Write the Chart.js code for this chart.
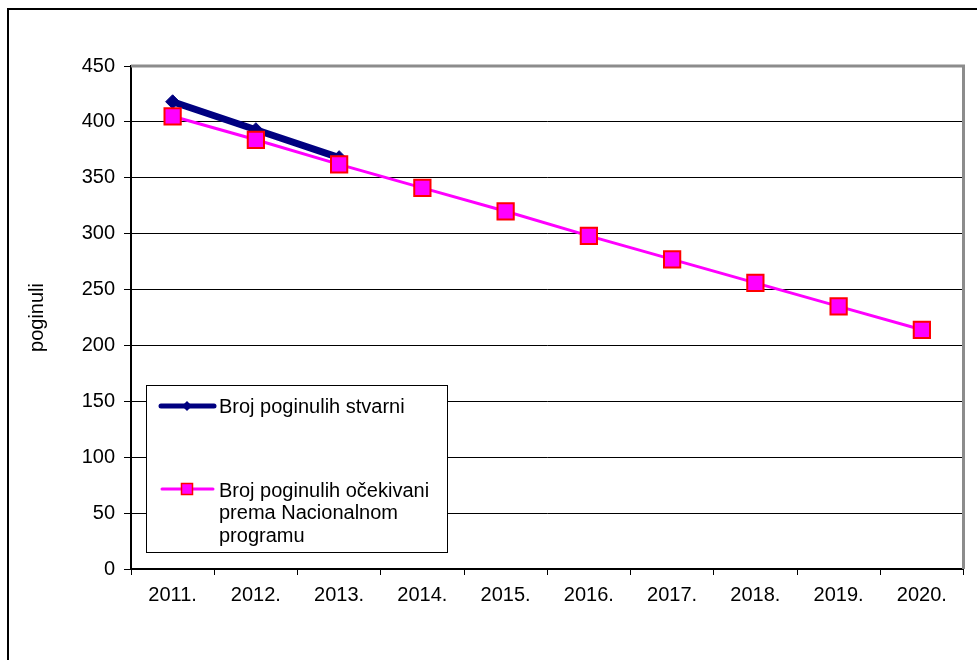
<!DOCTYPE html>
<html>
<head>
<meta charset="utf-8">
<script src="https://cdn.jsdelivr.net/npm/chart.js@4"></script>
<style>
  html, body { margin: 0; padding: 0; background: #fff; }
  #wrap { position: relative; width: 977px; height: 660px; overflow: hidden; }
  #frame { position: absolute; left: 7px; top: 8px; width: 1200px; height: 900px;
           border-left: 2px solid #000; border-top: 2px solid #000; box-sizing: border-box; pointer-events: none; }
  canvas { position: absolute; left: 0; top: 0; }
</style>
</head>
<body>
<div id="wrap">
  <canvas id="chart" width="977" height="660"></canvas>
  <div id="frame"></div>
</div>
<script>
// Broj poginulih - stvarni vs. očekivani (Nacionalni program)
const years = ["2011.", "2012.", "2013.", "2014.", "2015.", "2016.", "2017.", "2018.", "2019.", "2020."];
const actual = [418, 393, 368, null, null, null, null, null, null, null];
const expected = [405, 384, 362, 341, 320, 298, 277, 256, 235, 214];
const yTicks = [0, 50, 100, 150, 200, 250, 300, 350, 400, 450];

const labelActual = ["Broj poginulih stvarni"];
const labelExpected = ["Broj poginulih očekivani", "prema Nacionalnom", "programu"];

const FONT = "'Liberation Sans', Arial, sans-serif";
const FSIZE = 20;
const NAVY = "#000080";
const MAGENTA = "#FF00FF";
const RED = "#FF0000";

// gray plot border on top/right + legend box inside the plot
const plotDecor = {
  id: "plotDecor",
  beforeDatasetsDraw(chart) {
    const { ctx, chartArea: a } = chart;
    ctx.save();
    ctx.strokeStyle = "#8c8c8c";
    ctx.lineWidth = 3;
    ctx.beginPath();
    ctx.moveTo(a.left, a.top);
    ctx.lineTo(a.right, a.top);
    ctx.lineTo(a.right, a.bottom);
    ctx.stroke();
    ctx.restore();
  },
  afterDraw(chart) {
    const { ctx } = chart;
    const bx = 146, by = 385, bw = 301, bh = 167;
    ctx.save();
    ctx.fillStyle = "#fff";
    ctx.fillRect(bx, by, bw, bh);
    ctx.strokeStyle = "#000";
    ctx.lineWidth = 1;
    ctx.strokeRect(bx + 0.5, by + 0.5, bw, bh);

    // entry 1
    let y = 406;
    ctx.strokeStyle = NAVY;
    ctx.lineWidth = 5;
    ctx.lineCap = "round";
    ctx.beginPath(); ctx.moveTo(161, y); ctx.lineTo(214, y); ctx.stroke();
    ctx.fillStyle = NAVY;
    ctx.beginPath();
    ctx.moveTo(187, y - 5); ctx.lineTo(192, y); ctx.lineTo(187, y + 5); ctx.lineTo(182, y);
    ctx.closePath(); ctx.fill();

    ctx.font = FSIZE + "px " + FONT;
    ctx.fillStyle = "#000";
    ctx.textBaseline = "middle";
    labelActual.forEach((t, i) => ctx.fillText(t, 219, y + 1 + i * 22.5));

    // entry 2
    y = 489;
    ctx.strokeStyle = MAGENTA;
    ctx.lineWidth = 3;
    ctx.beginPath(); ctx.moveTo(162, y); ctx.lineTo(213, y); ctx.stroke();
    ctx.fillStyle = MAGENTA;
    ctx.fillRect(181.5, y - 5.5, 11, 11);
    ctx.strokeStyle = RED;
    ctx.lineWidth = 1.5;
    ctx.strokeRect(181.5, y - 5.5, 11, 11);
    ctx.fillStyle = "#000";
    labelExpected.forEach((t, i) => ctx.fillText(t, 219, y + 2 + i * 22.5));
    ctx.restore();
  }
};

new Chart(document.getElementById("chart"), {
  type: "line",
  data: {
    labels: years,
    datasets: [
      {
        label: labelActual.join(" "),
        data: actual,
        order: 2,
        borderColor: NAVY,
        backgroundColor: NAVY,
        borderWidth: 7,
        pointStyle: "rectRot",
        pointRadius: 7,
        pointBorderWidth: 1,
        pointBackgroundColor: NAVY,
        pointBorderColor: NAVY,
        spanGaps: false,
        tension: 0
      },
      {
        label: labelExpected.join(" "),
        data: expected,
        order: 1,
        borderColor: MAGENTA,
        backgroundColor: MAGENTA,
        borderWidth: 3,
        pointStyle: "rect",
        pointRadius: 11.5,
        pointBorderWidth: 2,
        pointBackgroundColor: MAGENTA,
        pointBorderColor: RED,
        tension: 0
      }
    ]
  },
  options: {
    responsive: false,
    animation: false,
    events: [],
    layout: { padding: { left: 7, top: 66, right: 12, bottom: 0 } },
    plugins: { legend: { display: false }, tooltip: { enabled: false } },
    scales: {
      x: {
        offset: true,
        grid: { offset: true, drawOnChartArea: false, drawTicks: true, tickLength: 6, color: "#000", lineWidth: 1 },
        border: { display: true, color: "#000", width: 2 },
        ticks: { color: "#000", font: { family: FONT, size: FSIZE }, padding: 8, maxRotation: 0, autoSkip: false },
        afterFit(scale) { scale.height = 660 - 569; }
      },
      y: {
        min: 0,
        max: 450,
        afterBuildTicks(scale) { scale.ticks = yTicks.map(v => ({ value: v })); },
        grid: {
          color: c => (c.tick && c.tick.value === 450 ? "rgba(0,0,0,0)" : "#000"),
          lineWidth: 1,
          tickColor: "#000",
          drawTicks: true,
          tickLength: 7
        },
        border: { display: true, color: "#000", width: 2 },
        ticks: { color: "#000", font: { family: FONT, size: FSIZE }, padding: 9 },
        title: {
          display: true,
          text: "poginuli",
          color: "#000",
          font: { family: FONT, size: FSIZE },
          padding: { top: 18, bottom: 0 }
        },
        afterFit(scale) { scale.width = 131 - 7; }
      }
    }
  },
  plugins: [plotDecor]
});
</script>
</body>
</html>
